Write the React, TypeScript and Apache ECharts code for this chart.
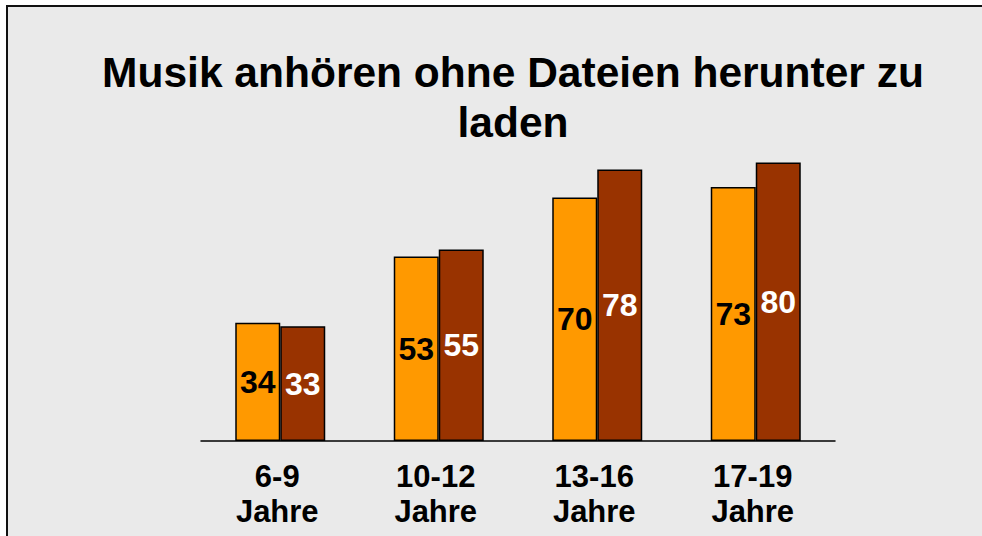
import React, { useEffect, useRef } from "react";
import * as echarts from "echarts";

const titleLines = ["Musik anhören ohne Dateien herunter zu", "laden"];
const ageGroups = ["6-9", "10-12", "13-16", "17-19"];
const ageUnit = "Jahre";
const seriesA = [34, 53, 70, 73];
const seriesB = [33, 55, 78, 80];
const seriesNames = ["Gruppe A", "Gruppe B"];

const FONT = "'Liberation Sans', Arial, sans-serif";

export default function App() {
  const ref = useRef<HTMLDivElement>(null);
  useEffect(() => {
    document.body.style.margin = "0";
    document.body.style.overflow = "hidden";
    document.documentElement.style.overflow = "hidden";
    if (!ref.current) return;
    const chart = echarts.init(ref.current, null, { renderer: "svg" });
    chart.setOption({
      animation: false,
      backgroundColor: "#EAEAEA",
      textStyle: { fontFamily: FONT },
      graphic: [
        {
          type: "rect",
          z: -9,
          silent: true,
          shape: { x: 0, y: 0, width: 982, height: 5 },
          style: { fill: "#FFFFFF" },
        },
        {
          type: "rect",
          z: -9,
          silent: true,
          shape: { x: 0, y: 0, width: 6, height: 536 },
          style: { fill: "#FFFFFF" },
        },
        {
          type: "rect",
          z: -8,
          silent: true,
          shape: { x: 6, y: 5, width: 976, height: 2 },
          style: { fill: "#111111" },
        },
        {
          type: "rect",
          z: -8,
          silent: true,
          shape: { x: 6, y: 5, width: 2, height: 531 },
          style: { fill: "#111111" },
        },
        {
          type: "rect",
          z: 100,
          silent: true,
          shape: { x: 960, y: 7, width: 22, height: 529 },
          style: { fill: "#EAEAEA" },
        },
        {
          type: "text",
          x: 513,
          y: 47,
          style: {
            text: titleLines.join("\n"),
            fontFamily: FONT,
            fontSize: 42.5,
            fontWeight: "bold",
            lineHeight: 50,
            fill: "#000000",
            textAlign: "center",
            textVerticalAlign: "top",
          },
        },
      ],
      grid: { left: 201, width: 634, top: 93, bottom: 95, containLabel: false },
      xAxis: {
        type: "category",
        data: ageGroups,
        axisLine: { show: true, lineStyle: { color: "#000000", width: 1.5 } },
        axisTick: { show: false },
        axisLabel: {
          formatter: (v: string) => `${v}\n${ageUnit}`,
          fontFamily: FONT,
          fontSize: 31,
          fontWeight: "bold",
          color: "#000000",
          lineHeight: 35,
          margin: 18,
          padding: [0, 6, 0, 0],
        },
      },
      yAxis: {
        type: "value",
        min: 0,
        max: 100,
        show: false,
        splitLine: { show: false },
      },
      series: [
        {
          name: seriesNames[0],
          type: "bar",
          data: seriesA,
          barWidth: 45,
          barGap: "0%",
          itemStyle: { color: "#FF9900", borderColor: "#000000", borderWidth: 1.5 },
          label: {
            show: true,
            position: "inside",
            fontFamily: FONT,
            fontSize: 32,
            fontWeight: "bold",
            color: "#000000",
          },
        },
        {
          name: seriesNames[1],
          type: "bar",
          data: seriesB,
          barWidth: 45,
          barGap: "0%",
          itemStyle: { color: "#993300", borderColor: "#000000", borderWidth: 1.5 },
          label: {
            show: true,
            position: "inside",
            fontFamily: FONT,
            fontSize: 32,
            fontWeight: "bold",
            color: "#FFFFFF",
          },
        },
      ],
    });
    return () => chart.dispose();
  }, []);
  return (
    <div
      ref={ref}
      style={{ position: "absolute", left: 0, top: 0, width: 982, height: 536 }}
    />
  );
}
